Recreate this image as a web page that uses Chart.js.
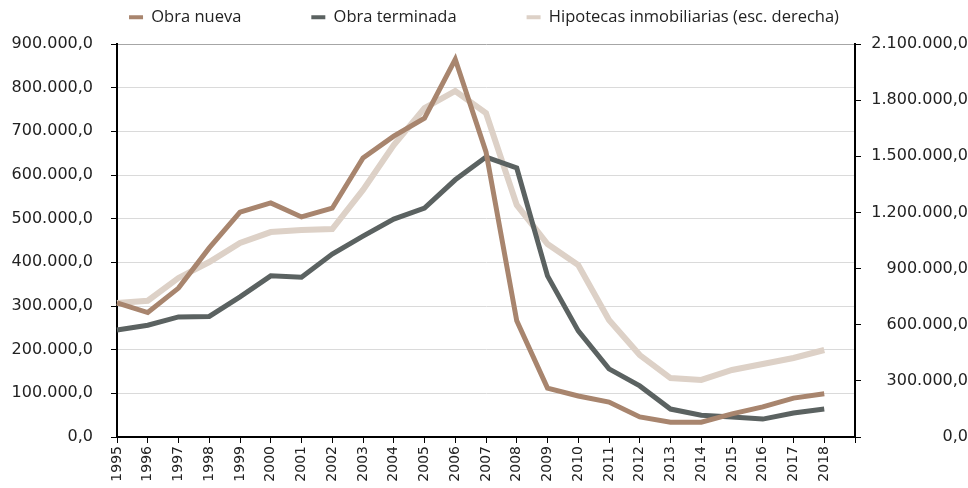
<!DOCTYPE html>
<html>
<head>
<meta charset="utf-8">
<script src="https://cdn.jsdelivr.net/npm/chart.js@4"></script>
<style>
    body { margin: 0; background: #fff; overflow: hidden; }
    #wrap { position: relative; width: 968px; height: 488px; }
</style>
</head>
<body>
<div id="wrap"><canvas id="viviendaChart"></canvas></div>
<script>
const years = ['1995', '1996', '1997', '1998', '1999', '2000', '2001', '2002', '2003', '2004', '2005', '2006',
               '2007', '2008', '2009', '2010', '2011', '2012', '2013', '2014', '2015', '2016', '2017', '2018', ''];
const obraNueva = [307000, 285000, 341000, 433000, 515000, 536000, 504000, 524000, 639000, 689000, 730000, 865000,
                   653000, 266000, 112000, 94000, 80000, 46000, 34000, 34000, 53000, 69000, 89000, 99000];
const obraTerminada = [245000, 256000, 275000, 276000, 321000, 369000, 366000, 419000, 460000, 499000, 524000, 589000,
                       641000, 616000, 369000, 243000, 156000, 117000, 64000, 50000, 46000, 41000, 55000, 64000];
const hipotecas = [716000, 728000, 850000, 935000, 1037000, 1095000, 1106000, 1111000, 1320000, 1560000, 1758000, 1849000,
                   1731000, 1240000, 1031000, 919000, 625000, 438000, 315000, 305000, 358000, 390000, 422000, 465000];
const seriesNames = ['Obra nueva', 'Obra terminada', 'Hipotecas inmobiliarias (esc. derecha)'];
const seriesColors = ['#a8856e', '#5b6261', '#ddd1c7'];

// spanish number format: 900.000,0
function fmt(v) {
    return String(Math.round(v)).replace(/\B(?=(\d{3})+(?!\d))/g, '.') + ',0';
}

// legend needs wide gaps between items but sits close to the top
const legendSpacing = {
    id: 'legendSpacing',
    beforeInit(chart) {
        const fit = chart.legend.fit;
        chart.legend.fit = function() {
            fit.call(this);
            this.height = 44;
        };
    },
    afterLayout(chart) {
        chart.legend.top = -61;
    }
};

Chart.defaults.font.family = 'DejaVu Sans';
Chart.defaults.color = '#222';

const ctx = document.getElementById('viviendaChart').getContext('2d');
const chart = new Chart(ctx, {
    type: 'line',
    data: {
        labels: years,
        datasets: [{
            label: seriesNames[0],
            data: obraNueva,
            borderColor: seriesColors[0],
            backgroundColor: seriesColors[0],
            borderWidth: 5,
            pointRadius: 0,
            tension: 0,
            yAxisID: 'y'
        }, {
            label: seriesNames[1],
            data: obraTerminada,
            borderColor: seriesColors[1],
            backgroundColor: seriesColors[1],
            borderWidth: 5,
            pointRadius: 0,
            tension: 0,
            yAxisID: 'y'
        }, {
            label: seriesNames[2],
            data: hipotecas,
            borderColor: seriesColors[2],
            backgroundColor: seriesColors[2],
            borderWidth: 6,
            pointRadius: 0,
            tension: 0,
            yAxisID: 'y2'
        }]
    },
    options: {
        responsive: true,
        maintainAspectRatio: false,
        animation: false,
        layout: {
            padding: 0
        },
        plugins: {
            legend: {
                display: true,
                position: 'top',
                labels: {
                    padding: 70,
                    boxWidth: 14,
                    boxHeight: 4,
                    color: '#222',
                    font: {
                        family: 'Open Sans',
                        size: 16.5
                    },
                    generateLabels: function(chart) {
                        return Chart.defaults.plugins.legend.labels.generateLabels(chart).map(l => {
                            l.lineWidth = 0;
                            return l;
                        });
                    }
                }
            },
            tooltip: {
                enabled: false
            }
        },
        scales: {
            x: {
                type: 'category',
                offset: false,
                afterFit: function(scale) {
                    scale.height = 51;
                },
                border: {
                    display: true,
                    color: '#000',
                    width: 2
                },
                grid: {
                    drawOnChartArea: false,
                    drawTicks: true,
                    tickLength: 6,
                    tickColor: '#000'
                },
                ticks: {
                    autoSkip: false,
                    maxRotation: 90,
                    minRotation: 90,
                    padding: 3,
                    font: {
                        size: 14
                    }
                }
            },
            y: {
                position: 'left',
                min: 0,
                max: 900000,
                afterFit: function(scale) {
                    scale.width = 117;
                },
                border: {
                    display: true,
                    color: '#000',
                    width: 2
                },
                grid: {
                    color: function(c) {
                        return c.tick && c.tick.value === 900000 ? '#a6a6a6' : '#dadada';
                    },
                    lineWidth: 1,
                    tickLength: 6,
                    tickColor: '#000'
                },
                ticks: {
                    stepSize: 100000,
                    padding: 18,
                    font: {
                        size: 16
                    },
                    callback: function(value) {
                        return fmt(value);
                    }
                }
            },
            y2: {
                position: 'right',
                min: 0,
                max: 2100000,
                afterFit: function(scale) {
                    scale.width = 113;
                },
                border: {
                    display: true,
                    color: '#000',
                    width: 2
                },
                grid: {
                    drawOnChartArea: false,
                    tickLength: 6,
                    tickColor: '#000'
                },
                ticks: {
                    stepSize: 300000,
                    crossAlign: 'far',
                    font: {
                        size: 16
                    },
                    callback: function(value) {
                        return fmt(value);
                    }
                }
            }
        }
    },
    plugins: [legendSpacing]
});
</script>
</body>
</html>
